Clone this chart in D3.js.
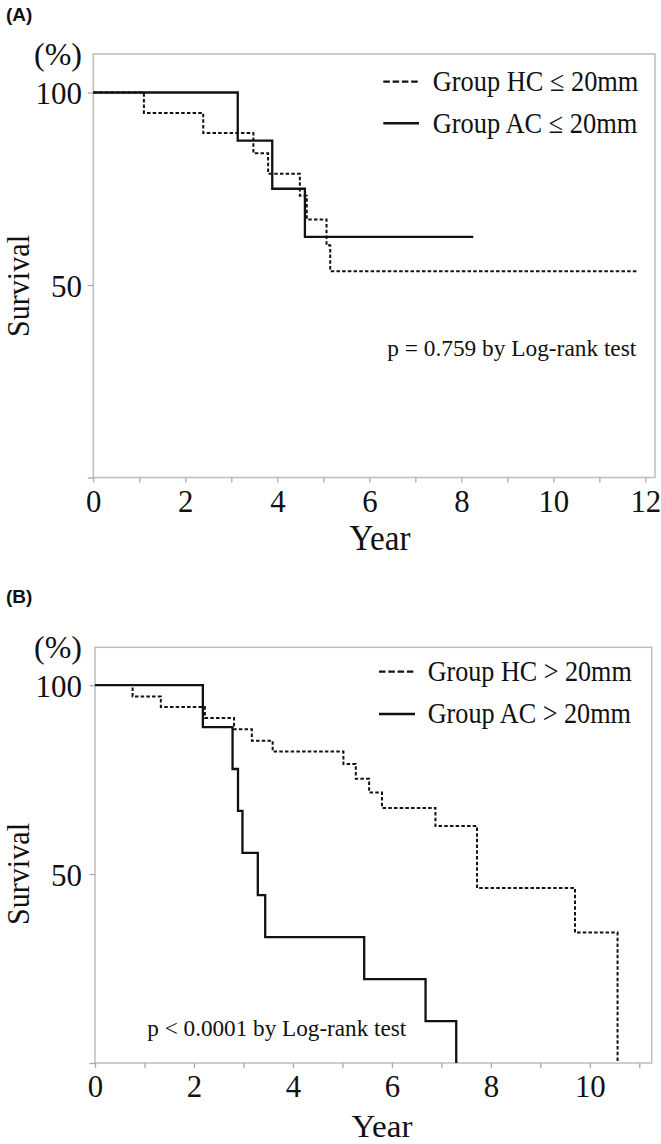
<!DOCTYPE html>
<html>
<head>
<meta charset="utf-8">
<script src="https://cdn.jsdelivr.net/npm/d3@7"></script>
<style>
  html, body { margin: 0; padding: 0; background: #fff; }
  svg { display: block; }
  text { font-family: "Liberation Serif", "Times New Roman", serif; fill: #111; }
</style>
</head>
<body>
<svg id="chart" width="661" height="1144"></svg>
<script>
// ---------------- DATA ----------------
// Panel A (tumour <= 20 mm)
const yearsA_HC = [0, 1.10, 2.39, 3.48, 3.80, 4.49, 4.64, 5.07, 5.15, 11.81];
const survA_HC  = [100, 94.7, 89.5, 84.2, 78.9, 73.2, 67.0, 60.3, 53.6, 53.6];
const yearsA_AC = [0, 3.14, 3.89, 4.60, 8.26];
const survA_AC  = [100, 87.5, 75.0, 62.5, 62.5];

// Panel B (tumour > 20 mm)
const yearsB_HC = [0, 0.76, 1.33, 2.22, 2.81, 3.17, 3.59, 5.02, 5.27, 5.54, 5.80, 6.88, 7.72, 9.70, 10.56];
const survB_HC  = [100, 97.0, 94.2, 91.3, 88.3, 85.3, 82.4, 79.1, 75.2, 71.6, 67.5, 62.7, 46.3, 34.5, 0];
const yearsB_AC = [0, 2.18, 2.78, 2.89, 2.98, 3.29, 3.44, 5.44, 6.68, 7.30];
const survB_AC  = [100, 88.9, 77.8, 66.7, 55.6, 44.4, 33.3, 22.2, 11.1, 0];

const xTicksA = [0,1,2,3,4,5,6,7,8,9,10,11,12];
const xTicksB = [0,1,2,3,4,5,6,7,8,9,10,11];
const yTicks = [0, 50, 100];
const yTickLabels = ["", "50", "100"];

const legendA = ["Group HC \u2264 20mm", "Group AC \u2264 20mm"];
const legendB = ["Group HC > 20mm", "Group AC > 20mm"];
const pTextA = "p = 0.759 by Log-rank test";
const pTextB = "p < 0.0001 by Log-rank test";

// ---------------- DRAW ----------------
const svg = d3.select("#chart");

function fit(sel, w) {
  sel.attr("textLength", w).attr("lengthAdjust", "spacingAndGlyphs");
}

function panel(cfg) {
  const g = svg.append("g");
  const x = d3.scaleLinear().domain([0, cfg.xMax]).range([cfg.left, cfg.right]);
  const y = d3.scaleLinear().domain([0, 110]).range([cfg.bottom, cfg.top]);

  // frame
  g.append("rect")
    .attr("x", cfg.left).attr("y", cfg.top)
    .attr("width", cfg.right - cfg.left).attr("height", cfg.bottom - cfg.top)
    .attr("fill", "none").attr("stroke", "#bdbdbd").attr("stroke-width", 1.5);

  // x axis
  const xa = g.append("g").attr("transform", `translate(0,${cfg.bottom})`)
    .call(d3.axisBottom(x).tickValues(cfg.xTicks).tickSize(5)
      .tickFormat(d => d % 2 === 0 ? d : ""));
  xa.select(".domain").remove();
  xa.selectAll(".tick line").attr("stroke", "#a8a8a8").attr("stroke-width", 1.3);
  xa.selectAll(".tick text")
    .attr("y", 34).attr("dy", null)
    .style("font-family", '"Liberation Serif", serif')
    .style("font-size", "32px").attr("fill", "#111")
    .each(function() {
      const t = d3.select(this).text();
      if (t) fit(d3.select(this), t.length * 15.4);
    });

  // y axis
  const ya = g.append("g").attr("transform", `translate(${cfg.left},0)`)
    .call(d3.axisLeft(y).tickValues(yTicks).tickSize(5.5)
      .tickFormat((d, i) => yTickLabels[i]));
  ya.select(".domain").remove();
  ya.selectAll(".tick line").attr("stroke", "#a8a8a8").attr("stroke-width", 1.3);
  ya.selectAll(".tick text")
    .attr("x", 82 - cfg.left).attr("dy", "0.35em")
    .style("font-family", '"Liberation Serif", serif')
    .style("font-size", "32px").attr("fill", "#111")
    .each(function() {
      const t = d3.select(this).text();
      if (t) fit(d3.select(this), t.length * 15.5);
    });

  // curves
  const line = d3.line().x(d => x(d[0])).y(d => y(d[1])).curve(d3.curveStepAfter);
  g.append("path")
    .datum(d3.zip(cfg.hcYears, cfg.hcSurv))
    .attr("d", line).attr("fill", "none")
    .attr("stroke", "#111").attr("stroke-width", 2)
    .attr("stroke-dasharray", "3.5,2.2");
  g.append("path")
    .datum(d3.zip(cfg.acYears, cfg.acSurv))
    .attr("d", line).attr("fill", "none")
    .attr("stroke", "#111").attr("stroke-width", 2.3);

  // legend
  cfg.legend.forEach((t, i) => {
    const ly = cfg.legY[i];
    g.append("line")
      .attr("x1", cfg.legX1).attr("x2", cfg.legX2)
      .attr("y1", ly).attr("y2", ly)
      .attr("stroke", "#111").attr("stroke-width", i === 0 ? 2.3 : 2.5)
      .attr("stroke-dasharray", i === 0 ? "6.5,2.8" : null);
    g.append("text")
      .attr("x", cfg.legTextX).attr("y", cfg.legBase[i])
      .style("font-size", "29px").text(t)
      .call(fit, cfg.legW[i]);
  });

  // p value
  g.append("text")
    .attr("x", cfg.pX).attr("y", cfg.pY)
    .style("font-size", "24px").text(cfg.pText)
    .call(fit, cfg.pW);

  // axis titles
  g.append("text")
    .attr("x", 82).attr("y", cfg.pctY).attr("text-anchor", "end")
    .style("font-size", "31px").text("(%)")
    .call(fit, 48);
  g.append("text")
    .attr("transform", `translate(29,${cfg.survY}) rotate(-90)`)
    .attr("text-anchor", "middle")
    .style("font-size", "32px").text("Survival")
    .call(fit, 102);
  g.append("text")
    .attr("x", cfg.yearX).attr("y", cfg.yearY).attr("text-anchor", "middle")
    .style("font-size", cfg.yearSize + "px").text("Year")
    .call(fit, 61);

  // panel letter
  g.append("text")
    .attr("x", 6).attr("y", cfg.letterY)
    .style("font-family", '"Liberation Sans", Arial, sans-serif')
    .style("font-weight", "bold").style("font-size", "19px")
    .text(cfg.letter);
}

panel({
  letter: "(A)", letterY: 21,
  left: 93.3, right: 655, top: 54, bottom: 477.5, xMax: 12.21, xTicks: xTicksA,
  hcYears: yearsA_HC, hcSurv: survA_HC, acYears: yearsA_AC, acSurv: survA_AC,
  legend: legendA, legX1: 383.3, legX2: 419, legY: [81.7, 123.3],
  legTextX: 432.7, legBase: [90.7, 132.7], legW: [205.7, 204.7],
  pText: pTextA, pX: 387.3, pY: 356, pW: 249,
  pctY: 64.5, survY: 286, yearX: 380, yearY: 550, yearSize: 35
});

panel({
  letter: "(B)", letterY: 603,
  left: 95, right: 651.7, top: 647.3, bottom: 1063, xMax: 11.25, xTicks: xTicksB,
  hcYears: yearsB_HC, hcSurv: survB_HC, acYears: yearsB_AC, acSurv: survB_AC,
  legend: legendB, legX1: 379, legX2: 415, legY: [671.7, 714],
  legTextX: 427.7, legBase: [680.7, 722.7], legW: [204, 203.3],
  pText: pTextB, pX: 147.3, pY: 1036, pW: 259,
  pctY: 657.8, survY: 874, yearX: 382, yearY: 1136.5, yearSize: 32
});
</script>
</body>
</html>
